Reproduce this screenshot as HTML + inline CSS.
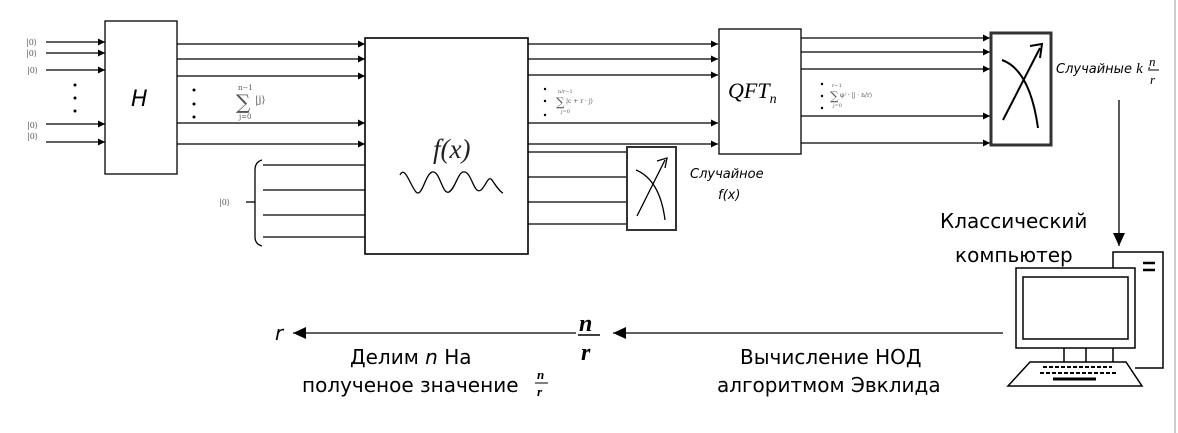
<!DOCTYPE html>
<html><head><meta charset="utf-8"><style>
body{margin:0;background:#fff}
svg{display:block}
.s{font-family:"DejaVu Serif","Liberation Serif",serif;fill:#555}
.c{font-family:"DejaVu Sans","Liberation Sans",sans-serif;fill:#000}
.i{font-family:"Liberation Serif",serif;font-style:italic}
</style></head><body>
<svg width="1178" height="433" viewBox="0 0 1178 433" xmlns="http://www.w3.org/2000/svg">
<defs><marker id="a" markerWidth="8" markerHeight="8" refX="7" refY="4" orient="auto" markerUnits="userSpaceOnUse"><path d="M0,0.5 L7,4 L0,7.5z" fill="#000"/></marker>
<marker id="b" markerWidth="14" markerHeight="12" refX="13" refY="6" orient="auto" markerUnits="userSpaceOnUse"><path d="M0,0 L13,6 L0,12z" fill="#000"/></marker></defs>
<line x1="1175" y1="0" x2="1175" y2="433" stroke="#ccc" stroke-width="2"/>
<g stroke="#000" stroke-width="1.3" fill="none">
<!-- inputs to H -->
<line x1="46" y1="42" x2="105" y2="42" marker-end="url(#a)"/>
<line x1="46" y1="53" x2="105" y2="53" marker-end="url(#a)"/>
<line x1="46" y1="70" x2="105" y2="70" marker-end="url(#a)"/>
<line x1="46" y1="124" x2="105" y2="124" marker-end="url(#a)"/>
<line x1="46" y1="142" x2="105" y2="142" marker-end="url(#a)"/>
<rect x="105" y="21" width="72" height="153"/>
<!-- H outputs -->
<line x1="177" y1="44" x2="365" y2="44" marker-end="url(#a)"/>
<line x1="177" y1="59" x2="365" y2="59" marker-end="url(#a)"/>
<line x1="177" y1="76" x2="365" y2="76" marker-end="url(#a)"/>
<line x1="177" y1="123" x2="365" y2="123" marker-end="url(#a)"/>
<line x1="177" y1="144" x2="365" y2="144" marker-end="url(#a)"/>
<!-- ancilla -->
<path d="M262,160 Q255,162 255,170 L255,237 Q255,244 262,246"/>
<line x1="246" y1="202" x2="255" y2="202"/>
<line x1="263" y1="165" x2="365" y2="165"/>
<line x1="263" y1="190" x2="365" y2="190"/>
<line x1="263" y1="215" x2="365" y2="215"/>
<line x1="263" y1="237" x2="365" y2="237"/>
<rect x="365" y="38" width="163" height="216" stroke-width="1.6"/>
<path d="M400,175 C405,165 410,185 416,192 C422,198 425,175 432,172 C440,170 442,195 449,192 C456,188 458,170 465,172 C472,174 474,195 481,190 C486,186 488,175 492,180 C496,186 500,192 503,193"/>
<!-- f outputs -->
<line x1="528" y1="44" x2="718" y2="44" marker-end="url(#a)"/>
<line x1="528" y1="59" x2="718" y2="59" marker-end="url(#a)"/>
<line x1="528" y1="75" x2="718" y2="75" marker-end="url(#a)"/>
<line x1="528" y1="123" x2="718" y2="123" marker-end="url(#a)"/>
<line x1="528" y1="144" x2="718" y2="144" marker-end="url(#a)"/>
<line x1="528" y1="152" x2="627" y2="152"/>
<line x1="528" y1="177" x2="627" y2="177"/>
<line x1="528" y1="202" x2="627" y2="202"/>
<line x1="528" y1="224" x2="627" y2="224"/>
<rect x="627" y="147" width="49" height="83" stroke="#333" stroke-width="2"/>
<path d="M636,170 Q660,180 665,220"/><line x1="637" y1="216" x2="665" y2="160"/><path d="M657,161 L667,158 L665,168"/>
<rect x="719" y="29" width="82" height="125"/>
<!-- QFT outputs -->
<line x1="801" y1="38" x2="990" y2="38" marker-end="url(#a)"/>
<line x1="801" y1="52" x2="990" y2="52" marker-end="url(#a)"/>
<line x1="801" y1="69" x2="990" y2="69" marker-end="url(#a)"/>
<line x1="801" y1="116" x2="990" y2="116" marker-end="url(#a)"/>
<line x1="801" y1="143" x2="990" y2="143" marker-end="url(#a)"/>
<rect x="991" y="33" width="60" height="112" stroke="#333" stroke-width="3"/>
<path d="M1002,60 Q1030,70 1038,128" stroke-width="2"/><line x1="1003" y1="120" x2="1040" y2="48" stroke-width="2"/><path d="M1030,46 L1042,44 L1040,58" stroke-width="2"/>
<!-- computer -->
<line x1="1119" y1="100" x2="1119" y2="246" marker-end="url(#b)"/>
<path d="M1113,268 L1113,252 L1163,252 L1163,368 L1135,368" stroke-width="1.5"/>
<rect x="1016" y="268" width="119" height="80" stroke-width="1.5"/>
<rect x="1023" y="277" width="105" height="62" stroke-width="1.5"/>
<path d="M1064,348 L1064,362 M1086,348 L1086,362 M1113,348 L1113,362" stroke-width="1.5"/>
<path d="M1030,362 L1126,362 L1142,386 L1008,386 Z" stroke-width="1.5"/>
<line x1="1043" y1="367" x2="1112" y2="367" stroke-width="2" stroke-dasharray="4,2"/>
<line x1="1040" y1="373" x2="1118" y2="373" stroke-width="2" stroke-dasharray="4,2"/>
<line x1="1053" y1="379" x2="1096" y2="379" stroke-width="3"/>
<line x1="1143" y1="263" x2="1155" y2="263" stroke-width="2.5"/><line x1="1143" y1="270" x2="1155" y2="270" stroke-width="2.5"/>
<!-- bottom -->
<line x1="1003" y1="333" x2="613" y2="333" marker-end="url(#b)"/>
<line x1="576" y1="333" x2="293" y2="333" marker-end="url(#b)"/>
</g>
<g fill="#000">
<circle cx="75" cy="85" r="1.5"/><circle cx="75" cy="98" r="1.5"/><circle cx="75" cy="111" r="1.5"/>
<circle cx="194" cy="90" r="1.5"/><circle cx="194" cy="104" r="1.5"/><circle cx="194" cy="117" r="1.5"/>
<circle cx="545" cy="89" r="1.2"/><circle cx="545" cy="101" r="1.2"/><circle cx="545" cy="115" r="1.2"/>
<circle cx="822" cy="84" r="1.2"/><circle cx="822" cy="96" r="1.2"/><circle cx="822" cy="108" r="1.2"/>
</g>
<g class="s" font-size="8">
<text x="26" y="45">|0⟩</text><text x="26" y="56">|0⟩</text><text x="27" y="73">|0⟩</text>
<text x="27" y="128">|0⟩</text><text x="27" y="139">|0⟩</text><text x="219" y="205">|0⟩</text>
<text x="238" y="90" font-size="7">n−1</text><text x="236" y="109" font-size="20">∑</text><text x="255" y="103" font-size="10">|j⟩</text><text x="239" y="119" font-size="7">j=0</text>
<text x="558" y="93" font-size="5">n/r−1</text><text x="556" y="106" font-size="12">∑</text><text x="566" y="103" font-size="6">|c + r · j⟩</text><text x="561" y="113" font-size="5">j=0</text>
<text x="832" y="87" font-size="5">r−1</text><text x="830" y="100" font-size="12">∑</text><text x="840" y="97" font-size="6">φʲ · |j · n/r⟩</text><text x="833" y="107" font-size="5">j=0</text>
</g>
<text x="131" y="106" class="c" font-size="22" font-style="italic">H</text>
<text x="433" y="158" class="i" font-size="27" fill="#222">f(x)</text>
<text x="728" y="98" class="i" font-size="22">QFT<tspan font-size="14" dy="5">n</tspan></text>
<text x="690" y="178" class="c" font-size="13" font-style="italic">Случайное</text>
<text x="718" y="199" class="c" font-size="13" font-style="italic">f(x)</text>
<text x="1056" y="73" class="c" font-size="13" font-style="italic">Случайные <tspan class="i" font-size="15">k</tspan> ·</text>
<text x="1149" y="66" class="i" font-size="13">n</text><line x1="1148" y1="70" x2="1159" y2="70" stroke="#000"/><text x="1150" y="84" class="i" font-size="13">r</text>
<text x="940" y="228" class="c" font-size="20">Классический</text>
<text x="955" y="262" class="c" font-size="20">компьютер</text>
<text x="740" y="364" class="c" font-size="20">Вычисление НОД</text>
<text x="717" y="392" class="c" font-size="20">алгоритмом Эвклида</text>
<text x="275" y="340" class="c" font-size="20" font-style="italic">r</text>
<text x="579" y="331" class="i" font-size="24" font-weight="bold">n</text><line x1="578" y1="335" x2="600" y2="335" stroke="#000" stroke-width="1.5"/><text x="581" y="360" class="i" font-size="24" font-weight="bold">r</text>
<text x="350" y="364" class="c" font-size="20">Делим <tspan font-style="italic">n</tspan> На</text>
<text x="302" y="392" class="c" font-size="20">полученое значение</text>
<text x="537" y="379" class="i" font-size="13" font-weight="bold">n</text><line x1="535" y1="383" x2="548" y2="383" stroke="#000"/><text x="537" y="396" class="i" font-size="13" font-weight="bold">r</text>
</svg>
</body></html>
